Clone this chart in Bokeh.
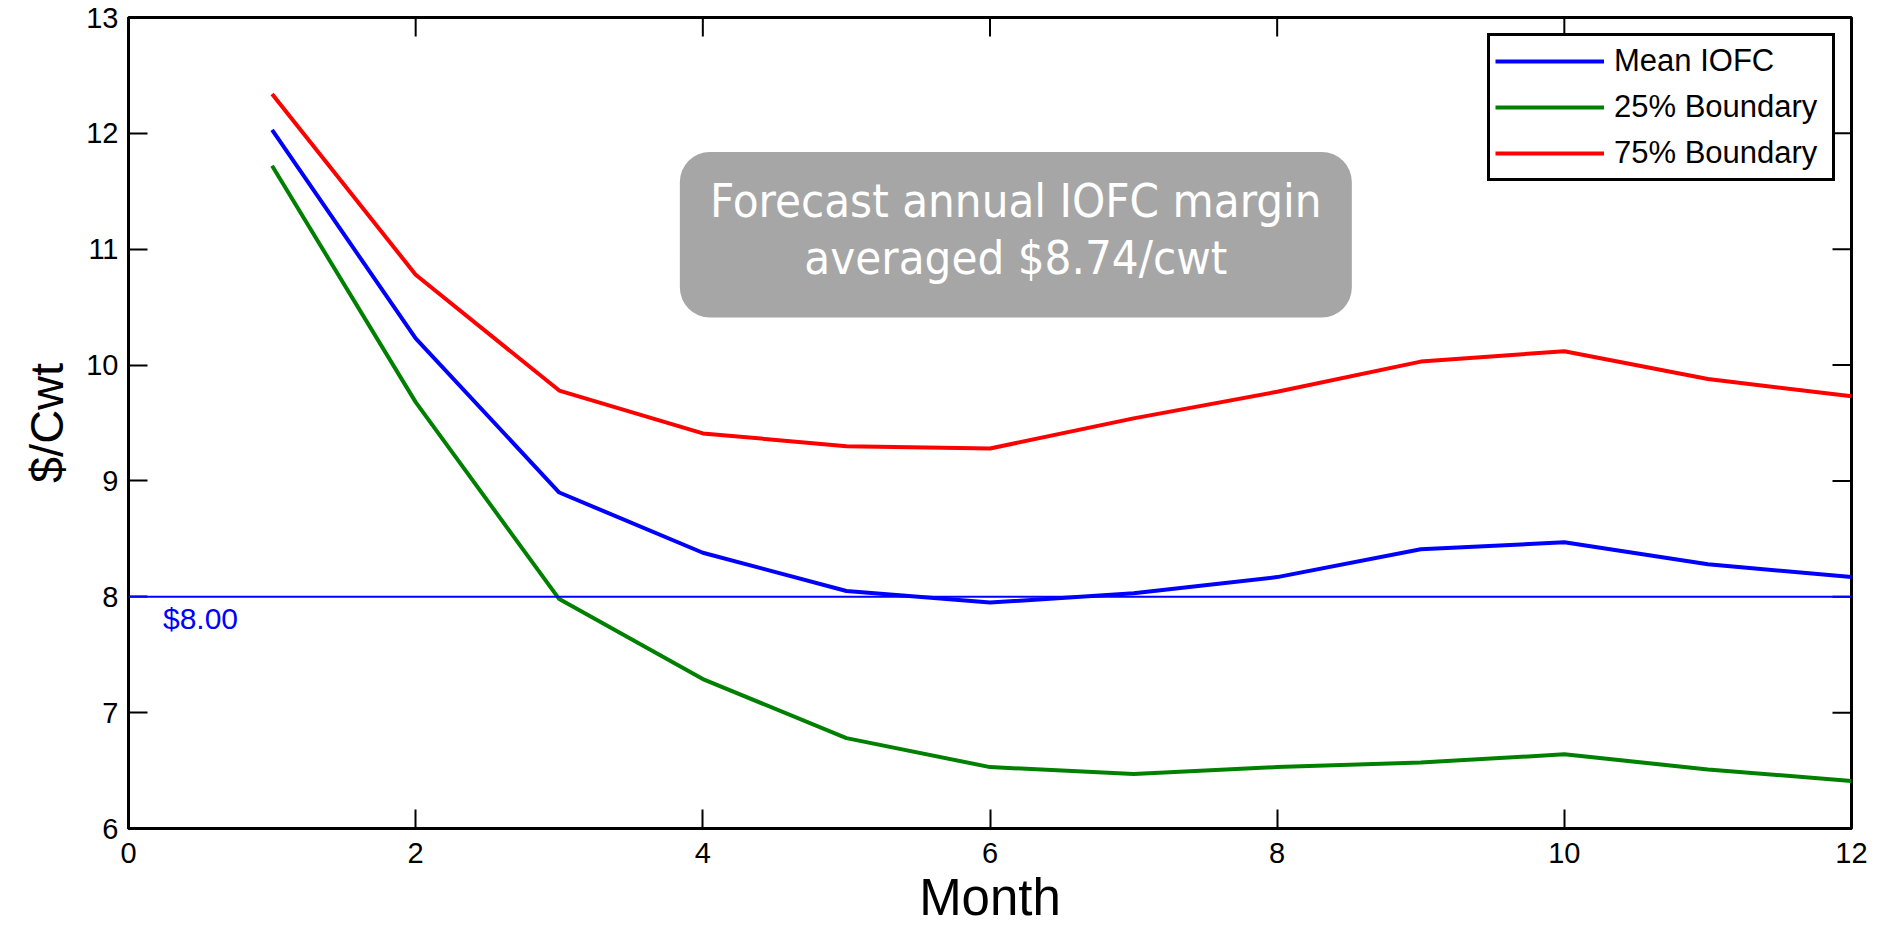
import numpy as np
from bokeh.plotting import figure
from bokeh.models import (Range1d, Span, Label, BoxAnnotation,
                          Legend, LegendItem, FixedTicker)
from bokeh.embed import file_html
from bokeh.resources import INLINE

# ---------------- data ----------------
months = [1, 2, 3, 4, 5, 6, 7, 8, 9, 10, 11, 12]
mean_iofc = [12.03, 10.23, 8.90, 8.38, 8.05, 7.95, 8.03, 8.17, 8.41, 8.47, 8.28, 8.17]
boundary_25 = [11.72, 9.68, 7.98, 7.29, 6.78, 6.53, 6.47, 6.53, 6.57, 6.64, 6.51, 6.41]
boundary_75 = [12.34, 10.78, 9.78, 9.41, 9.30, 9.28, 9.54, 9.77, 10.03, 10.12, 9.88, 9.73]
series_names = ["Mean IOFC", "25% Boundary", "75% Boundary"]
x_ticks = [0, 2, 4, 6, 8, 10, 12]
y_ticks = [6, 7, 8, 9, 10, 11, 12, 13]
threshold = 8.0
threshold_text = "$8.00"
note_lines = ["Forecast annual IOFC margin", "averaged $8.74/cwt"]
x_title = "Month"
y_title = "$/Cwt"

# ---------------- styling / layout ----------------
FONT = "Liberation Sans"
NOTE_FONT = "DejaVu Sans Condensed"
colors = ["#0000ff", "#008000", "#ff0000"]
X0, X1 = x_ticks[0], x_ticks[-1]
Y0, Y1 = y_ticks[0], y_ticks[-1]

p = figure(width=1880, height=928,
           x_range=Range1d(X0, X1), y_range=Range1d(Y0, Y1),
           output_backend="svg", toolbar_location=None,
           min_border_left=128, min_border_right=29,
           min_border_top=17, min_border_bottom=99,
           x_axis_label=x_title, y_axis_label=y_title)
p.grid.visible = False
p.outline_line_color = "black"
p.outline_line_width = 3
p.background_fill_color = "white"
p.border_fill_color = "white"

def style_axis(ax, ticks):
    ax.ticker = FixedTicker(ticks=ticks)
    ax.major_tick_in = 19
    ax.major_tick_out = 0
    ax.minor_tick_in = 0
    ax.minor_tick_out = 0
    ax.major_tick_line_width = 2
    ax.major_tick_line_color = "black"
    ax.axis_line_width = 3
    ax.axis_line_color = "black"
    ax.major_label_text_font = FONT
    ax.major_label_text_color = "black"
    ax.major_label_text_font_size = "29px"
    ax.axis_label_text_font = FONT
    ax.axis_label_text_font_style = "normal"
    ax.axis_label_text_color = "black"

xa = p.xaxis[0]
ya = p.yaxis[0]
style_axis(xa, x_ticks)
style_axis(ya, y_ticks)
xa.major_label_standoff = 14
xa.axis_label_text_font_size = "51px"
xa.axis_label_standoff = 3
ya.major_label_standoff = 10
ya.axis_label_text_font_size = "47px"
ya.axis_label_standoff = 10

# mirrored inside ticks on top and right (half of each dash is clipped by the frame)
p.scatter(x_ticks, [Y1] * len(x_ticks), marker="dash", angle=np.pi / 2,
          size=38, line_color="black", line_width=2)
p.scatter([X1] * len(y_ticks), y_ticks, marker="dash",
          size=38, line_color="black", line_width=2)

# threshold line
p.add_layout(Span(location=threshold, dimension="width",
                  line_color="#0000ff", line_width=2))
p.add_layout(Label(x=0.24, y=threshold - 0.185, text=threshold_text,
                   text_color="#0000ff", text_font=FONT,
                   text_font_size="30px", text_baseline="alphabetic"))

# series
renderers = []
for vals, c in zip([mean_iofc, boundary_25, boundary_75], colors):
    r = p.line(months, vals, line_color=c, line_width=4)
    renderers.append(r)

legend = Legend(items=[LegendItem(label=n, renderers=[r])
                       for n, r in zip(series_names, renderers)],
                location="top_right", margin=16, padding=5,
                spacing=6, glyph_width=109, glyph_height=40,
                label_height=40, label_width=213, label_standoff=10,
                label_text_font=FONT, label_text_font_size="31px",
                label_text_color="black",
                border_line_color="black", border_line_width=3,
                border_line_alpha=1,
                background_fill_color="white", background_fill_alpha=1)
p.add_layout(legend)

# note box
box_left, box_right, box_bottom, box_top = 3.84, 8.52, 10.41, 11.84
p.add_layout(BoxAnnotation(left=box_left, right=box_right,
                           bottom=box_bottom, top=box_top,
                           fill_color="#a6a6a6", fill_alpha=1,
                           line_color=None, border_radius=30))
cx = (box_left + box_right) / 2
for txt, yy in zip(note_lines, [11.42, 10.93]):
    p.add_layout(Label(x=cx, y=yy, text=txt, text_align="center",
                       text_baseline="alphabetic", text_color="white",
                       text_font=NOTE_FONT, text_font_size="47px"))

open("out.html", "w").write(file_html(p, INLINE))
